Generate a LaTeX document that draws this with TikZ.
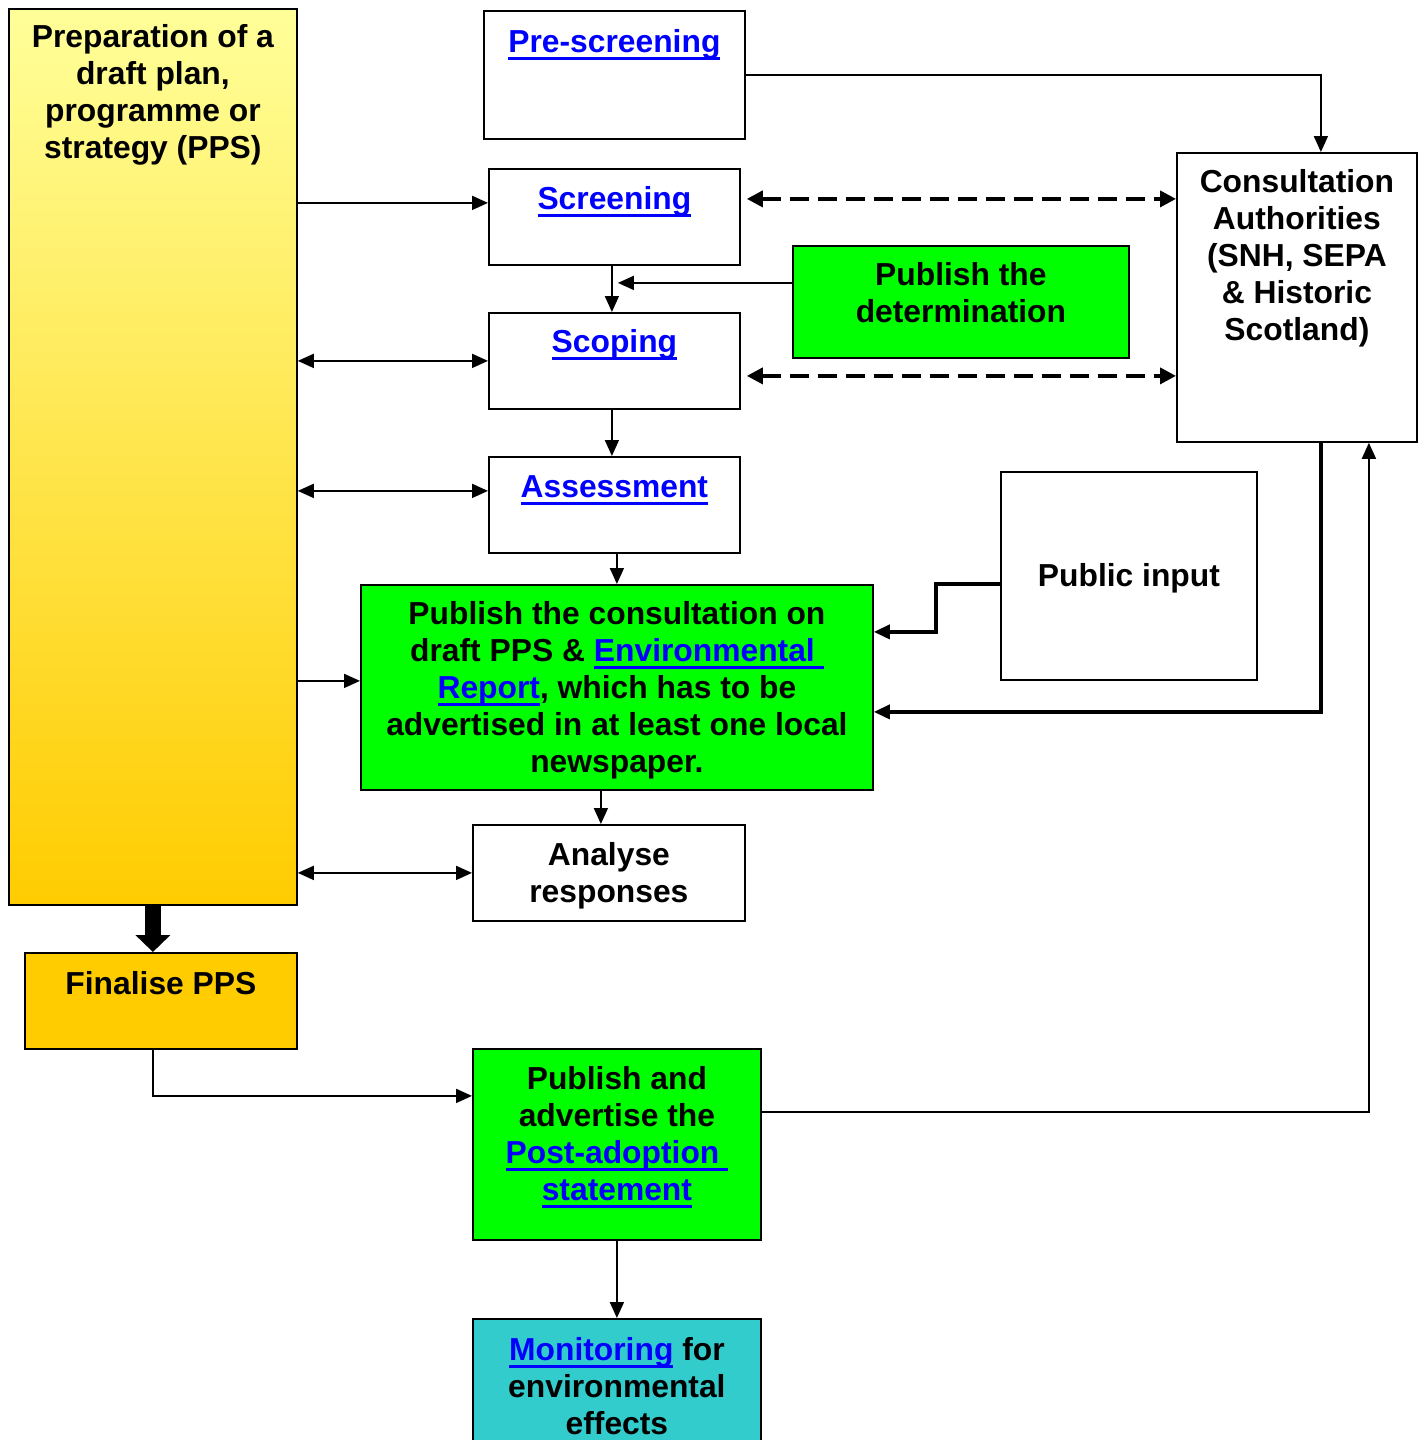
\documentclass[tikz,border=0pt]{standalone}
\usepackage{fontspec}
\setmainfont{Liberation Sans}
\usetikzlibrary{arrows.meta}
\definecolor{preplight}{HTML}{FFFF99}
\definecolor{finorange}{HTML}{FFCC00}
\definecolor{pubgreen}{HTML}{00FF00}
\definecolor{monicyan}{HTML}{33CCCC}
\definecolor{linkblue}{HTML}{0000FF}
\newsavebox{\lnkbox}
\newcommand{\lnk}[1]{\textcolor{linkblue}{\sbox{\lnkbox}{#1}\rlap{\rule[-7pt]{\wd\lnkbox}{2.6pt}}\usebox{\lnkbox}}}
% width, height, top gap, text
\newcommand{\stagetext}[4]{\parbox[c][#2pt][t]{#1pt}{\centering\vspace*{#3pt}\strut #4}}
\tikzset{
	stage/.style     = {shape=rectangle, draw, line width=1.8pt,
		anchor=north west, inner sep=0pt,
		font=\fontsize{31.8}{37}\selectfont\bfseries},
	published/.style = {stage, fill=pubgreen},
	conn/.style      = {->, line width=1.8pt},
	twoway/.style    = {<->, line width=1.8pt},
	heavyconn/.style = {->, line width=3.6pt},
	dashconn/.style  = {<->, line width=3.6pt, dash pattern=on 19pt off 9pt,
		>={Triangle[length=16pt,width=16pt]}}
}

\begin{document}
\begin{tikzpicture}[x=1pt, y=-1pt, >={Triangle[length=16pt,width=14pt]}]
	\useasboundingbox (0,0) rectangle (1422,1440);

	\node[stage, top color=preplight, bottom color=finorange] (prep) at (8,8)
		{\stagetext{288}{896}{13}{Preparation of a\\ draft plan,\\ programme or\\ strategy (PPS)}};
	\node[stage] (prescreen) at (483,10)   {\stagetext{261}{128}{16}{\lnk{Pre-screening}}};
	\node[stage] (screening) at (488,168)  {\stagetext{251}{96}{15}{\lnk{Screening}}};
	\node[published] (publishdet) at (792,245)
		{\stagetext{336}{112}{14}{Publish the\\ determination}};
	\node[stage] (scoping) at (488,312)    {\stagetext{251}{96}{14}{\lnk{Scoping}}};
	\node[stage] (consult) at (1176,152)
		{\stagetext{240}{289}{14}{Consultation\\ Authorities\\ (SNH, SEPA\\ \& Historic\\ Scotland)}};
	\node[stage] (assessment) at (488,456) {\stagetext{251}{96}{15}{\lnk{Assessment}}};
	\node[stage] (publicinput) at (1000,471) {\stagetext{256}{208}{89}{Public input}};
	\node[published] (consultation) at (360,584)
		{\stagetext{512}{205}{14}{Publish the consultation on\\ draft PPS \& \lnk{Environmental }\\ \lnk{Report}, which has to be\\ advertised in at least one local\\ newspaper.}};
	\node[stage] (analyse) at (472,824)    {\stagetext{272}{96}{15}{Analyse\\ responses}};
	\node[stage, fill=finorange] (finalise) at (24,952) {\stagetext{272}{96}{16}{Finalise PPS}};
	\node[published] (postadopt) at (472,1048)
		{\stagetext{288}{191}{15}{Publish and\\ advertise the\\ \lnk{Post-adoption }\\ \lnk{statement}}};
	\node[stage, fill=monicyan] (monitoring) at (472,1318)
		{\stagetext{288}{140}{16}{\lnk{Monitoring} for\\ environmental\\ effects}};

	% attach points
	\coordinate (scr-l)  at ([yshift=14pt]screening.west);
	\coordinate (scr-r)  at ([xshift=6pt,yshift=18pt]screening.east);
	\coordinate (scr-b)  at ([xshift=-2.5pt]screening.south);
	\coordinate (sco-b)  at ([xshift=-2.5pt]scoping.south);
	\coordinate (sco-r)  at ([xshift=6pt,yshift=-15pt]scoping.east);
	\coordinate (ass-l)  at ([yshift=14pt]assessment.west);
	\coordinate (det-l)  at ([yshift=19pt]publishdet.west);
	\coordinate (det-t)  at ([xshift=6pt]scr-b);
	\coordinate (cs-l)   at ([yshift=6.5pt]consultation.west);
	\coordinate (cs-r1)  at ([yshift=55.5pt]consultation.east);
	\coordinate (cs-r2)  at ([yshift=-24.5pt]consultation.east);
	\coordinate (cs-b)   at ([xshift=-16pt]consultation.south);
	\coordinate (pi-l)   at ([yshift=-8pt]publicinput.west);
	\coordinate (con-t)  at ([xshift=24pt]consult.north);
	\coordinate (con-b1) at ([xshift=24pt]consult.south);
	\coordinate (con-b2) at ([xshift=72pt]consult.south);
	\coordinate (fin-b)  at ([xshift=-8pt]finalise.south);
	\coordinate (pa-l)   at ([yshift=48.5pt]postadopt.west);
	\coordinate (pa-r)   at ([yshift=32.5pt]postadopt.east);

	\draw[conn] (prescreen.east) -| (con-t);
	\draw[conn] (prep.east |- scr-l) -- (scr-l);
	\draw[dashconn] (scr-r) -- (consult.west |- scr-r);
	\draw[conn] (scr-b) -- (scr-b |- scoping.north);
	\draw[conn] (det-l) -- (det-t |- det-l);
	\draw[twoway] (prep.east |- scoping.west) -- (scoping.west);
	\draw[dashconn] (sco-r) -- (consult.west |- sco-r);
	\draw[conn] (sco-b) -- (sco-b |- assessment.north);
	\draw[twoway] (prep.east |- ass-l) -- (ass-l);
	\draw[conn] (consultation.north |- assessment.south) -- (consultation.north);
	\draw[conn] (prep.east |- cs-l) -- (cs-l);
	\draw[heavyconn] (pi-l) -- ++(-64,0) |- (cs-r1);
	\draw[heavyconn] (con-b1) |- (cs-r2);
	\draw[conn] (cs-b) -- (cs-b |- analyse.north);
	\draw[twoway] (prep.east |- analyse.west) -- (analyse.west);
	\draw[line width=16pt, -{Triangle[length=17pt,width=34pt]}] (prep.south) -- (prep.south |- finalise.north);
	\draw[conn] (fin-b) |- (pa-l);
	\draw[conn] (pa-r) -| (con-b2);
	\draw[conn] (postadopt.south) -- (monitoring.north);
\end{tikzpicture}
\end{document}
